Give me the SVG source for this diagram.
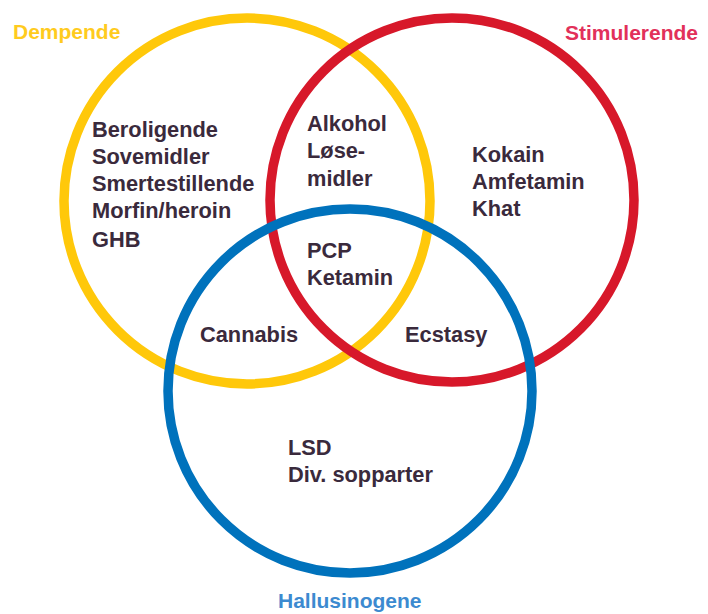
<svg xmlns="http://www.w3.org/2000/svg" width="708" height="614" viewBox="0 0 708 614">
<style>
.ring{fill:none;stroke-width:9.5}
.t{font-family:"Liberation Sans",Arial,sans-serif;font-weight:bold;font-size:21.8px;fill:#3a2a3c}
.lbl{font-family:"Liberation Sans",Arial,sans-serif;font-weight:bold;font-size:21px}
</style>
<rect width="708" height="614" fill="#ffffff"/>
<g id="dempende">
<circle class="ring" cx="247" cy="201" r="183" stroke="#FFC80A"/>
<text class="lbl" x="13" y="39" fill="#FFCB1E">Dempende</text>
<text class="t" x="92" y="137">Beroligende</text>
<text class="t" x="92" y="164">Sovemidler</text>
<text class="t" x="92" y="191">Smertestillende</text>
<text class="t" x="92" y="218">Morfin/heroin</text>
<text class="t" x="92" y="247">GHB</text>
</g>
<g id="stimulerende">
<circle class="ring" cx="452" cy="200" r="182" stroke="#D7182A"/>
<text class="lbl" x="565" y="40" fill="#E2305A">Stimulerende</text>
<text class="t" x="472" y="162">Kokain</text>
<text class="t" x="472" y="189">Amfetamin</text>
<text class="t" x="472" y="216">Khat</text>
</g>
<g id="hallusinogene">
<circle class="ring" cx="350" cy="391" r="182" stroke="#0072BC"/>
<text class="lbl" x="278" y="608" fill="#3C8AD0">Hallusinogene</text>
<text class="t" x="288" y="455">LSD</text>
<text class="t" x="288" y="482">Div. sopparter</text>
</g>
<g id="overlap-dempende-stimulerende">
<text class="t" x="307" y="131">Alkohol</text>
<text class="t" x="307" y="158">Løse-</text>
<text class="t" x="307" y="186">midler</text>
</g>
<g id="overlap-all">
<text class="t" x="307" y="258">PCP</text>
<text class="t" x="307" y="285">Ketamin</text>
</g>
<g id="overlap-dempende-hallusinogene">
<text class="t" x="200" y="342">Cannabis</text>
</g>
<g id="overlap-stimulerende-hallusinogene">
<text class="t" x="405" y="342">Ecstasy</text>
</g>
<g id="connectors"></g>
</svg>
